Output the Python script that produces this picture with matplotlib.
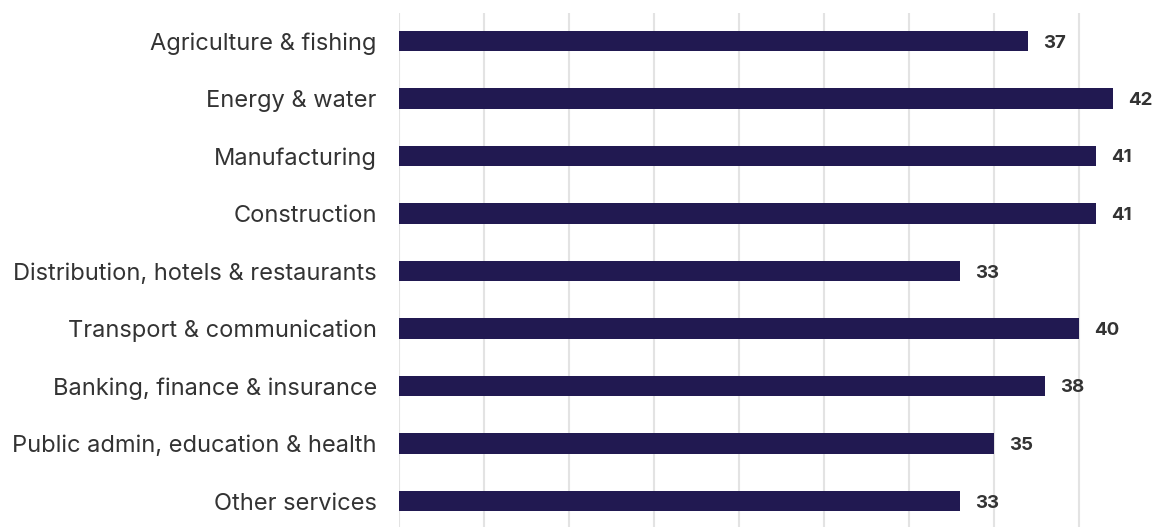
import numpy as np
import matplotlib.pyplot as plt

plt.rcParams['font.family'] = ['Inter', 'DejaVu Sans']

sectors = ['Agriculture & fishing', 'Energy & water', 'Manufacturing',
           'Construction', 'Distribution, hotels & restaurants',
           'Transport & communication', 'Banking, finance & insurance',
           'Public admin, education & health', 'Other services']
values = [37, 42, 41, 41, 33, 40, 38, 35, 33]

bar_colour = '#211951'
text_colour = '#333333'

fig = plt.figure(figsize=(11.64, 5.27), dpi=100)
ax = fig.add_axes([399 / 1164, 0, 1 - 399 / 1164, 514 / 527])

pos = np.arange(len(sectors))
ax.barh(pos, values, height=0.36, color=bar_colour, zorder=3)

for p, v in zip(pos, values):
    ax.annotate(str(v), (v, p), xytext=(11, 0), textcoords='offset points',
                va='center_baseline', ha='left', fontsize=13.5,
                fontweight='bold', color=text_colour)

ax.set_xlim(0, 45)
ax.set_ylim(8 + 26 / 57.5, -28 / 57.5)
ax.set_xticks(np.arange(0, 45, 5))
ax.set_xticklabels([])
ax.set_yticks(pos)
ax.set_yticklabels(sectors, fontsize=17, color=text_colour)
ax.tick_params(axis='both', length=0)
ax.tick_params(axis='y', pad=16)
ax.grid(axis='x', color='#e3e3e3', linewidth=1.5, zorder=0)
for s in ax.spines.values():
    s.set_visible(False)

fig.savefig('out.png', dpi=100)
